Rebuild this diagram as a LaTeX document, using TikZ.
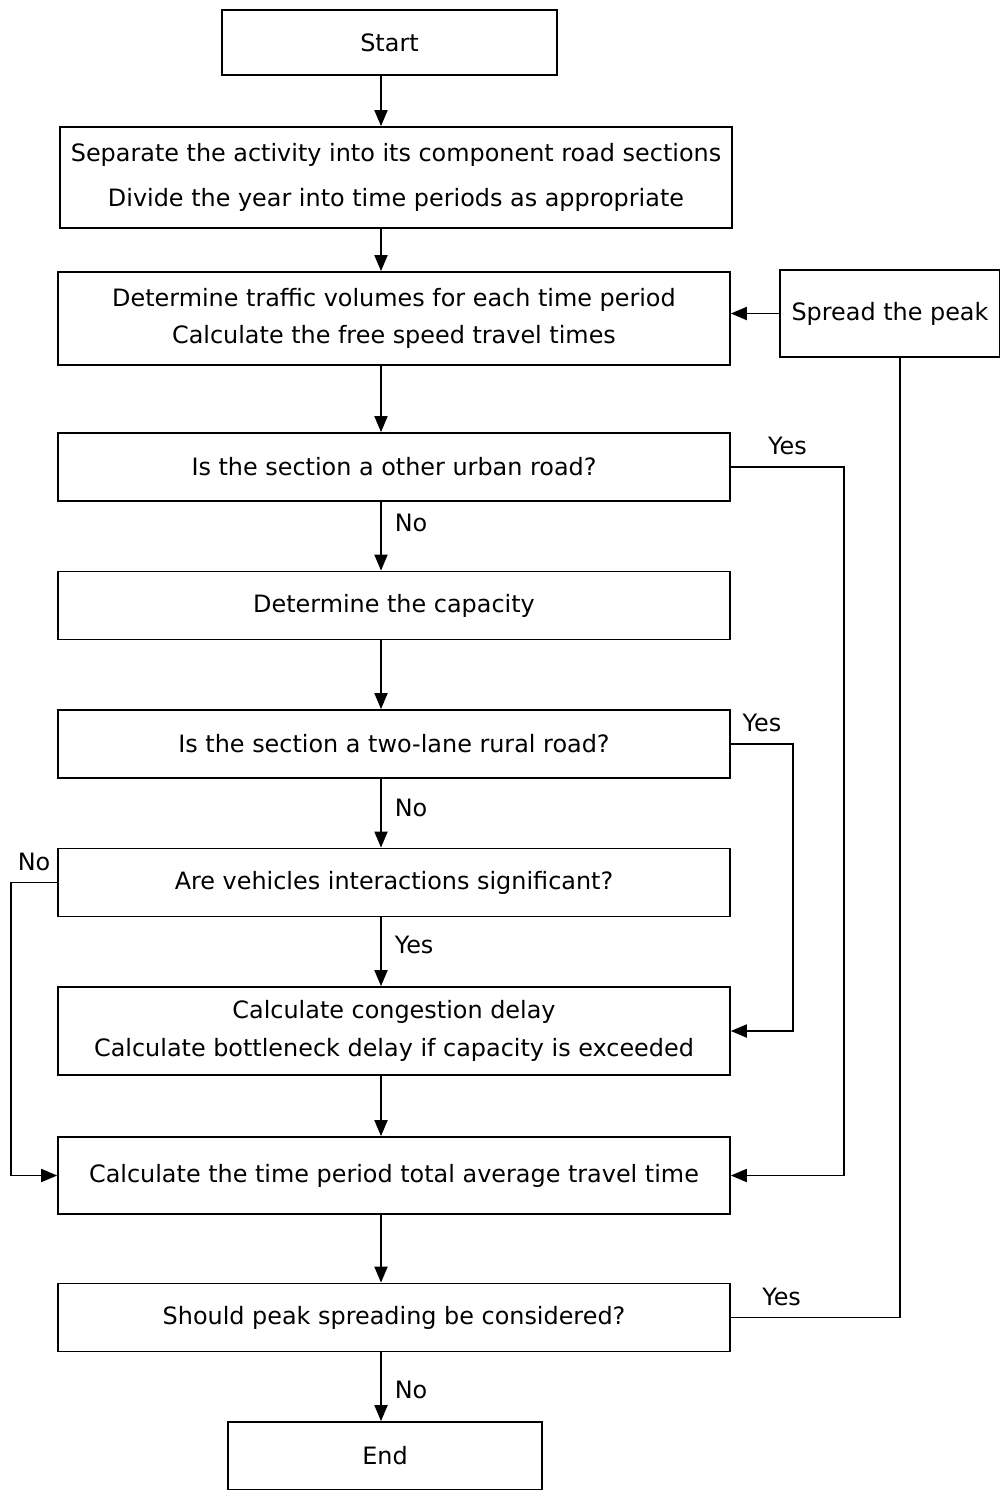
\documentclass[tikz,border=0pt]{standalone}
\usepackage{fontspec}
\setmainfont{DejaVu Sans}
\usepackage{tikz}
\usetikzlibrary{shapes,arrows,positioning}

\begin{document}
\begin{tikzpicture}[x=0.02cm,y=-0.02cm,>=triangle 45,line width=1.1pt,font=\fontsize{13.6}{21.5}\selectfont]
                \tikzstyle{box}=[draw=black,rectangle,inner sep=0pt,align=center,minimum width=13.44cm,minimum height=1.36cm]
                \tikzstyle{term}=[box,minimum width=6.5cm]
                \tikzstyle{flow}=[->]
                \tikzstyle{lbl}=[right,xshift=0.14cm]
                \tikzstyle{lblup}=[above,yshift=3pt]
                \useasboundingbox (0,0) rectangle (1000,1490);

                \coordinate (spine) at (381,0);

                \node[term,minimum width=6.7cm,minimum height=1.3cm] at (389.5,42.5) (start) {Start};
                \node[box,minimum height=2.02cm] at (396,177.5) (sep) {Separate the activity into its component road sections\\[4pt]Divide the year into time periods as appropriate};
                \node[box,minimum height=1.86cm] at (394,318.5) (vol) {Determine traffic volumes for each time period\\Calculate the free speed travel times};
                \node[box,minimum width=4.4cm,minimum height=1.74cm] at (890,313.5) (spread) {Spread the peak};
                \node[box] at (394,467) (urban) {Is the section a other urban road?};
                \node[box] at (394,605.5) (cap) {Determine the capacity};
                \node[box] at (394,744) (rural) {Is the section a two-lane rural road?};
                \node[box] at (394,882.5) (inter) {Are vehicles interactions significant?};
                \node[box,minimum height=1.76cm] at (394,1031) (delay) {Calculate congestion delay\\Calculate bottleneck delay if capacity is exceeded};
                \node[box,minimum height=1.54cm] at (394,1175.5) (total) {Calculate the time period total average travel time};
                \node[box] at (394,1317.5) (peak) {Should peak spreading be considered?};
                \node[term,minimum width=6.28cm] at (385,1456) (end) {End};

                \coordinate (ret) at (900,357);

                \draw[flow] (start.south -| spine) -- (sep.north -| spine);
                \draw[flow] (sep.south -| spine) -- (vol.north -| spine);
                \draw[flow] (vol.south -| spine) -- (urban.north -| spine);
                \draw[flow] (urban.south -| spine) -- node[lbl,pos=0.3] {No} (cap.north -| spine);
                \draw[flow] (cap.south -| spine) -- (rural.north -| spine);
                \draw[flow] (rural.south -| spine) -- node[lbl,pos=0.42] {No} (inter.north -| spine);
                \draw[flow] (inter.south -| spine) -- node[lbl,pos=0.4] {Yes} (delay.north -| spine);
                \draw[flow] (delay.south -| spine) -- (total.north -| spine);
                \draw[flow] (total.south -| spine) -- (peak.north -| spine);
                \draw[flow] (peak.south -| spine) -- node[lbl,pos=0.54] {No} (end.north -| spine);

                \draw[flow] (urban.east) -- node[lblup] {Yes} ++(113,0) |- (total.east);
                \draw[flow] (rural.east) -- node[lblup] {Yes} ++(62,0) |- (delay.east);
                \draw[flow] (inter.west) -- node[lblup] {No} ++(-46,0) |- (total.west);
                \draw (peak.east) -| node[lblup,pos=0.15] {Yes} (ret);
                \draw[flow] (spread.west) -- (spread.west -| vol.east);
\end{tikzpicture}
\end{document}
